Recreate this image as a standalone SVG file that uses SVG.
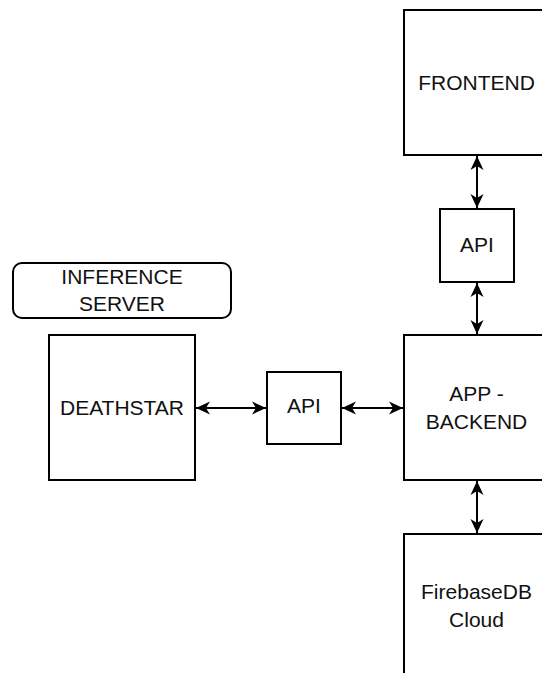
<svg xmlns="http://www.w3.org/2000/svg" width="542" height="673" viewBox="0 0 542 673">
<style>
.box{fill:#fff;stroke:#000;stroke-width:2}
.lbl{font-family:"Liberation Sans",Arial,sans-serif;font-size:21px;fill:#111;text-anchor:middle}
.con{stroke:#000;stroke-width:2;fill:none;marker-start:url(#arr);marker-end:url(#arr)}
</style>
<defs>
<marker id="arr" viewBox="0 0 14 14" refX="14" refY="7" markerWidth="14" markerHeight="14" orient="auto-start-reverse" markerUnits="userSpaceOnUse">
<path d="M0,0.5 L14,7 L0,13.5 L4,7 z" fill="#000"/>
</marker>
</defs>
<rect width="542" height="673" fill="#fff"/>
<g id="connectors">
<line class="con" x1="477" y1="156" x2="477" y2="208"/>
<line class="con" x1="477" y1="283" x2="477" y2="334"/>
<line class="con" x1="477" y1="481" x2="477" y2="533"/>
<line class="con" x1="196" y1="408" x2="266" y2="408"/>
<line class="con" x1="342" y1="408" x2="403" y2="408"/>
</g>
<g id="frontend">
<rect class="box" x="404" y="10" width="145" height="145"/>
<text class="lbl" x="476.5" y="90">FRONTEND</text>
</g>
<g id="api-top">
<rect class="box" x="440" y="209" width="74" height="73"/>
<text class="lbl" x="477" y="252">API</text>
</g>
<g id="inference-server">
<rect class="box" x="13" y="263" width="218" height="55" rx="9" ry="9"/>
<text class="lbl" x="122" y="284">INFERENCE</text>
<text class="lbl" x="122" y="311">SERVER</text>
</g>
<g id="deathstar">
<rect class="box" x="49" y="335" width="146" height="145"/>
<text class="lbl" x="122" y="415">DEATHSTAR</text>
</g>
<g id="api-mid">
<rect class="box" x="267" y="372" width="74" height="72"/>
<text class="lbl" x="304" y="413">API</text>
</g>
<g id="app-backend">
<rect class="box" x="404" y="335" width="145" height="145"/>
<text class="lbl" x="476.5" y="401">APP -</text>
<text class="lbl" x="476.5" y="429">BACKEND</text>
</g>
<g id="firebase">
<rect class="box" x="404" y="534" width="145" height="145"/>
<text class="lbl" x="476.5" y="599">FirebaseDB</text>
<text class="lbl" x="476.5" y="627">Cloud</text>
</g>
</svg>
